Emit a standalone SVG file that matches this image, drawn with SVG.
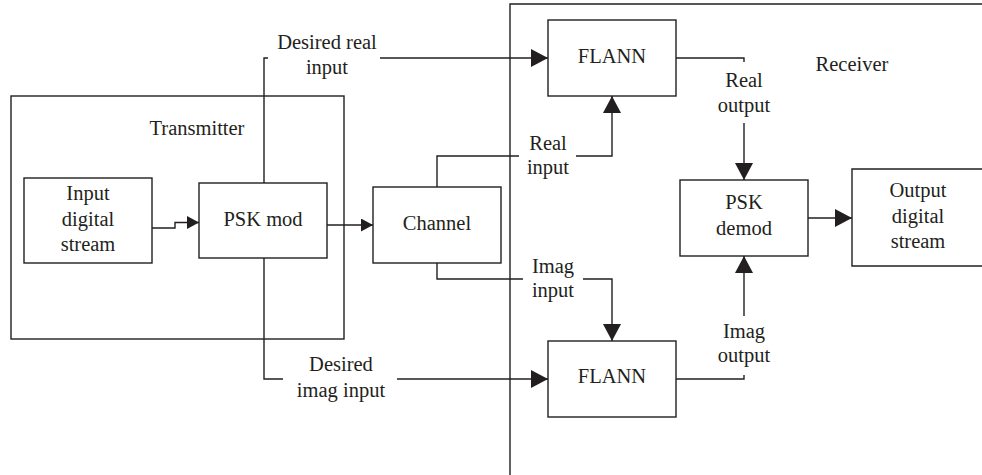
<svg xmlns="http://www.w3.org/2000/svg" width="982" height="475" viewBox="0 0 982 475">
  <style>
    .box { fill: #fff; stroke: #231f20; stroke-width: 1.4; }
    .frame { fill: none; stroke: #231f20; stroke-width: 1.4; }
    .wire { fill: none; stroke: #231f20; stroke-width: 1.4; }
    text { font-family: "Liberation Serif", "Times New Roman", serif; font-size: 20.5px; fill: #231f20; text-anchor: middle; }
  </style>
  <defs>
    <marker id="arrS" markerUnits="userSpaceOnUse" markerWidth="12" markerHeight="13" refX="12" refY="6.5" orient="auto">
      <path d="M0,0 L12,6.5 L0,13 Z" fill="#231f20"/>
    </marker>
    <marker id="arrL" markerUnits="userSpaceOnUse" markerWidth="17" markerHeight="18" refX="17" refY="9" orient="auto">
      <path d="M0,0 L17,9 L0,18 Z" fill="#231f20"/>
    </marker>
  </defs>

  <!-- enclosing regions -->
  <g id="transmitter">
    <rect class="frame" x="11" y="96" width="333" height="243"/>
    <text x="197" y="135">Transmitter</text>
  </g>
  <g id="receiver">
    <path class="frame" d="M982,4 H510 V475"/>
    <text x="852" y="71">Receiver</text>
  </g>

  <!-- connectors -->
  <g id="connectors">
    <path class="wire" d="M152,228 H175 V222.5 H199" marker-end="url(#arrS)"/>
    <path class="wire" d="M327,225 H373" marker-end="url(#arrS)"/>
    <path class="wire" d="M264,183 V58 H268"/>
    <path class="wire" d="M380,58 H548" marker-end="url(#arrL)"/>
    <path class="wire" d="M437,187 V156 H519"/>
    <path class="wire" d="M576,156 H612 V96" marker-end="url(#arrL)"/>
    <path class="wire" d="M437,263 V279 H523"/>
    <path class="wire" d="M583,279 H612 V341" marker-end="url(#arrL)"/>
    <path class="wire" d="M264,258 V379 H283"/>
    <path class="wire" d="M397,379 H548" marker-end="url(#arrL)"/>
    <path class="wire" d="M676,58 H744 V62"/>
    <path class="wire" d="M744,123 V180" marker-end="url(#arrL)"/>
    <path class="wire" d="M676,379 H744 V375"/>
    <path class="wire" d="M744,316 V256" marker-end="url(#arrL)"/>
    <path class="wire" d="M808,218 H852" marker-end="url(#arrL)"/>
  </g>

  <!-- connector labels -->
  <g id="labels">
    <text x="327" y="49">Desired real</text>
    <text x="327" y="74">input</text>
    <text x="548" y="150">Real</text>
    <text x="548" y="174">input</text>
    <text x="553" y="273">Imag</text>
    <text x="553" y="297">input</text>
    <text x="341" y="371">Desired</text>
    <text x="341" y="397">imag input</text>
    <text x="744" y="87">Real</text>
    <text x="744" y="112">output</text>
    <text x="744" y="338">Imag</text>
    <text x="744" y="362">output</text>
  </g>

  <!-- blocks -->
  <g id="input-stream">
    <rect class="box" x="24" y="178" width="128" height="85"/>
    <text x="88" y="200">Input</text>
    <text x="88" y="226">digital</text>
    <text x="88" y="251">stream</text>
  </g>
  <g id="psk-mod">
    <rect class="box" x="199" y="183" width="128" height="75"/>
    <text x="263" y="226">PSK mod</text>
  </g>
  <g id="channel">
    <rect class="box" x="373" y="187" width="128" height="76"/>
    <text x="437" y="230">Channel</text>
  </g>
  <g id="flann-real">
    <rect class="box" x="548" y="20" width="128" height="76"/>
    <text x="612" y="63">FLANN</text>
  </g>
  <g id="flann-imag">
    <rect class="box" x="548" y="341" width="128" height="76"/>
    <text x="612" y="383">FLANN</text>
  </g>
  <g id="psk-demod">
    <rect class="box" x="680" y="180" width="128" height="76"/>
    <text x="744" y="209">PSK</text>
    <text x="744" y="235">demod</text>
  </g>
  <g id="output-stream">
    <path class="box" d="M982,169 H852 V266 H982"/>
    <text x="918" y="197">Output</text>
    <text x="918" y="223">digital</text>
    <text x="918" y="248">stream</text>
  </g>
</svg>
